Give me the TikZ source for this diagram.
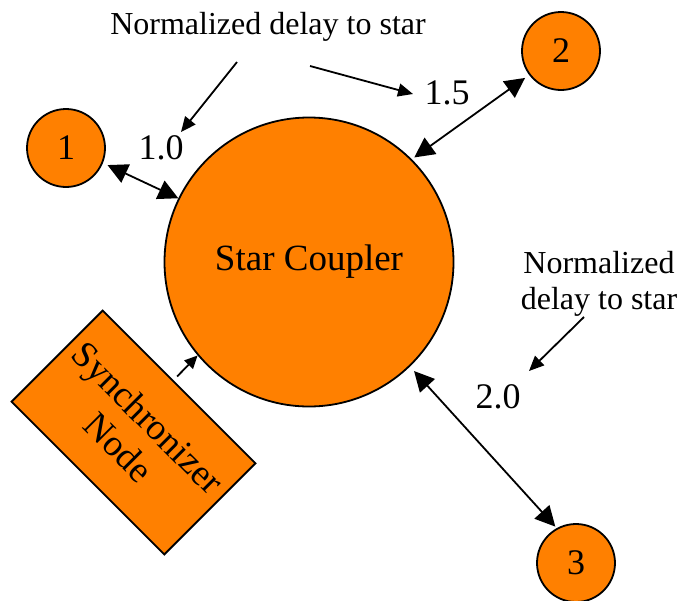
\documentclass[tikz,border=0pt]{standalone}
\usepackage{fontspec}
\setmainfont{Liberation Serif}
\usetikzlibrary{arrows.meta,calc}
\definecolor{orng}{RGB}{255,128,0}
\begin{document}
\begin{tikzpicture}[x=1pt,y=-1pt,
  bubble/.style={circle,draw=black,fill=orng,line width=1.8pt,inner sep=0pt},
  boxnode/.style={rectangle,draw=black,fill=orng,line width=1.8pt,inner sep=0pt},
  digit/.style={font=\fontsize{36}{40}\selectfont},
  note/.style={font=\fontsize{32}{36}\selectfont,align=center},
  link/.style={line width=1.8pt,{Triangle[length=20pt,width=20pt]}-{Triangle[length=20pt,width=20pt]}},
  pointer/.style={line width=1.8pt,-{Triangle[length=15pt,width=13pt]}}]
\useasboundingbox (0,0) rectangle (685,600);
\node[bubble,minimum size=289pt,font=\fontsize{37}{40}\selectfont] (star) at (309,262) {Star Coupler};
\node[bubble,minimum size=78pt,digit] (n1) at (66,148) {1};
\node[bubble,minimum size=78pt,digit] (n2) at (561,51) {2};
\node[bubble,minimum size=78pt,digit] (n3) at (576,563) {3};
\node[boxnode,rotate=-45,minimum width=216pt,minimum height=129pt,align=center,
  font=\fontsize{37}{42}\selectfont] (sync) at (133.5,432.5) {Synchronizer\\Node};
\node[note,anchor=base] (lab1) at (268,34) {Normalized delay to star};
\node[note] (lab2) at (599,284) {Normalized\\delay to star};
\node[digit] (l10) at (161,148) {1.0};
\node[digit] (l15) at (447,93) {1.5};
\node[digit] (l20) at (498,397) {2.0};
\coordinate (p1s) at (237,62);
\coordinate (p1e) at (181,132);
\coordinate (p2s) at (310,66);
\coordinate (p2e) at (413,94);
\coordinate (p3s) at (584,317);
\coordinate (p3e) at (529,371);
\draw[pointer] (p1s) -- (p1e);
\draw[pointer] (p2s) -- (p2e);
\draw[pointer] (p3s) -- (p3e);
\draw[link,shorten >=5pt] (star.154) -- (n1.-22);
\draw[link,shorten <=3pt,shorten >=5pt] (star.45) -- (n2.217);
\draw[link,shorten <=6pt,shorten >=2pt] (star.-46) -- (n3.119);
\coordinate (sy) at ($(sync.north west)!0.46!(sync.north east)$);
\draw[line width=1.8pt,-{Triangle[length=13pt,width=12pt]},shorten <=5pt] (sy) -- (star.220);
\end{tikzpicture}
\end{document}
